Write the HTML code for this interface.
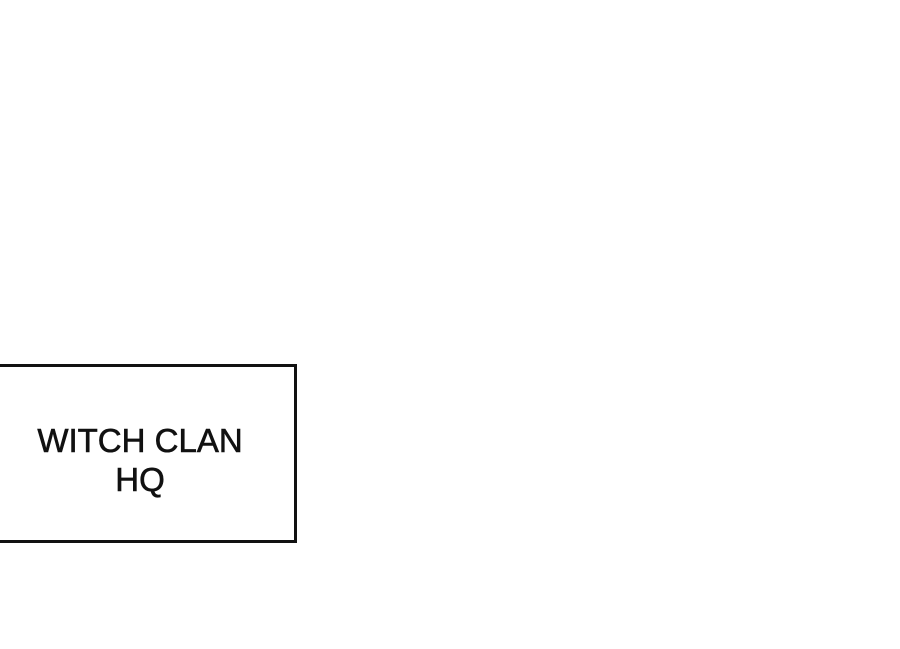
<!DOCTYPE html>
<html><head><style>
html,body{margin:0;padding:0;width:900px;height:649px;background:#fff;overflow:hidden;}
.box{position:absolute;left:-4px;top:364px;width:295px;height:173px;border:3px solid #111;background:#fff;}
.t{position:absolute;left:0;width:280px;text-align:center;font-family:"Liberation Sans",sans-serif;font-size:33px;line-height:34px;color:#111;-webkit-text-stroke:0.6px #111;}
</style></head><body>
<div class="box"></div>
<div class="t" style="top:424px;">WITCH CLAN</div>
<div class="t" style="top:463px;">HQ</div>
</body></html>
